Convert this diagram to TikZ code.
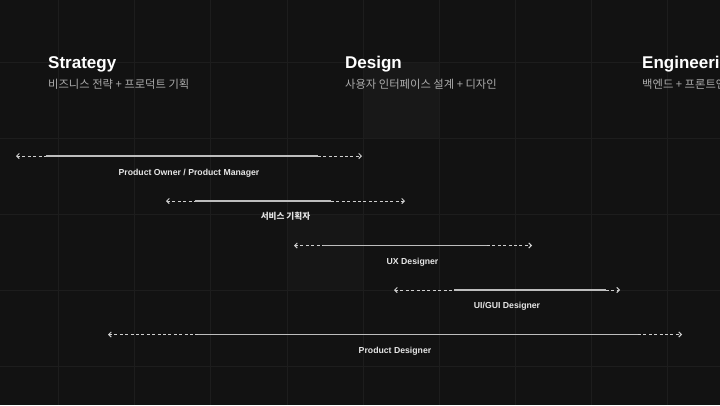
\documentclass[tikz,border=0pt]{standalone}
\usepackage{fontspec}
\setmainfont{Liberation Sans}
\newfontfamily\kr{Noto Sans CJK KR}
\usetikzlibrary{arrows.meta}
\definecolor{bg}{HTML}{121212}
\definecolor{gridc}{HTML}{1D1D1D}
\definecolor{cellc}{HTML}{181818}
\definecolor{solidc}{HTML}{BDBDBD}
\definecolor{dashc}{HTML}{CFCFCF}
\definecolor{subc}{HTML}{ABABAB}
\definecolor{labc}{HTML}{E6E6E6}
\tikzset{
  gridline/.style={draw=gridc, line width=0.8pt},
  head/.style={anchor=base west, inner sep=0pt, text=white, font=\fontsize{17}{20}\selectfont\bfseries},
  sub/.style={anchor=base west, inner sep=0pt, text=subc, font=\kr\fontsize{11.3}{13}\selectfont},
  lab/.style={anchor=base, inner sep=0pt, text=labc, font=\fontsize{8.7}{10}\selectfont\bfseries},
  klab/.style={anchor=base, inner sep=0pt, text=labc, font=\kr\fontsize{8.6}{10}\selectfont\bfseries},
  solidseg/.style={draw=solidc, line width=1.1pt},
  dashseg/.style={draw=dashc, line width=0.9pt, dash pattern=on 3pt off 2.4pt},
  tipL/.style={{Straight Barb[length=2.6pt,width=5.2pt,line width=0.9pt]}-},
  tipR/.style={-{Straight Barb[length=2.6pt,width=5.2pt,line width=0.9pt]}},
}
\begin{document}
\begin{tikzpicture}[x=1pt,y=-1pt]
\useasboundingbox (0,0) rectangle (720,405);
\clip (0,0) rectangle (720,405);
\fill[bg] (0,0) rectangle (720,405);
% lighter cells
\fill[cellc] (363,62) rectangle (439,138);
\fill[cellc!70!bg] (287,214) rectangle (363,290);
% grid
\foreach \gx in {58,134,210,287,363,439,515,591,667}{\draw[gridline] (\gx,0) -- (\gx,405);}
\foreach \gy in {62,138,214,290,366}{\draw[gridline] (0,\gy) -- (720,\gy);}
% headers
\node[head] (h1) at (48,68) {Strategy};
\node[sub] (s1) at (48,88.5) {비즈니스 전략 + 프로덕트 기획};
\node[head] (h2) at (345,68) {Design};
\node[sub] (s2) at (345,88.5) {사용자 인터페이스 설계 + 디자인};
\node[head] (h3) at (642,68) {Engineering};
\node[sub] (s3) at (642,88.5) {백엔드 + 프론트엔드 개발};
% rows
\foreach \n/\yy/\xa/\xb/\xc/\xd in {1/156/16/46/318/362, 2/201/166/195/331/405, 3/245.5/294/323/487/532, 4/290/394/454/606/620, 5/334.5/108/198/638/682}{
  \coordinate (a\n) at (\xa,\yy);
  \coordinate (b\n) at (\xb,\yy);
  \coordinate (c\n) at (\xc,\yy);
  \coordinate (d\n) at (\xd,\yy);
  \draw[dashseg, tipL] (a\n) -- (b\n);
  \draw[solidseg] (b\n) -- (c\n);
  \draw[dashseg, tipR] (c\n) -- (d\n);
}
\node[lab] (l1) at (189,175) {Product Owner / Product Manager};
\node[klab] (l2) at (285.5,219.5) {서비스 기획자};
\node[lab] (l3) at (412.5,264) {UX Designer};
\node[lab] (l4) at (507,308.5) {UI/GUI Designer};
\node[lab] (l5) at (395,353) {Product Designer};
\end{tikzpicture}
\end{document}
